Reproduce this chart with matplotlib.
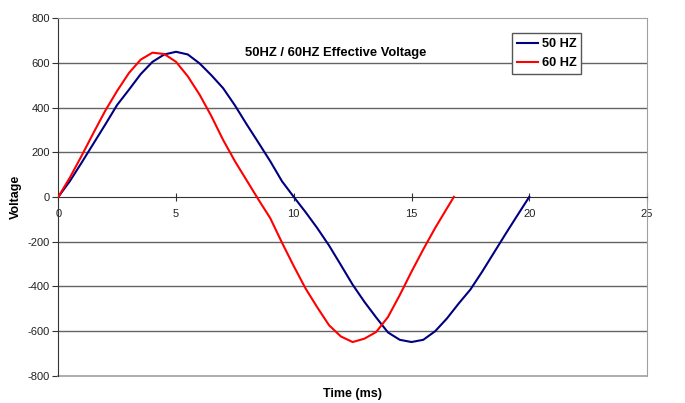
import matplotlib
matplotlib.use("Agg")
import matplotlib.pyplot as plt

plt.rcParams['font.family'] = ['Liberation Sans', 'DejaVu Sans']
plt.rcParams['axes.unicode_minus'] = False

# values, 0.5 ms steps
t50 = [0, 0.5, 1, 1.5, 2, 2.5, 3, 3.5, 4, 4.5, 5, 5.5, 6, 6.5, 7, 7.5, 8, 8.5, 9, 9.5, 10,
       10.5, 11, 11.5, 12, 12.5, 13, 13.5, 14, 14.5, 15, 15.5, 16, 16.5, 17, 17.5, 18, 18.5, 19, 19.5, 20]
v50 = [0, 72, 155, 240, 325, 412, 480, 550, 605, 638, 650, 638, 598, 545, 487, 410, 325, 243, 160, 70, 0,
       -68, -140, -218, -305, -393, -470, -540, -607, -640, -650, -640, -602, -545, -478, -415, -335, -250, -165, -82, 0]

t60 = [0, 0.5, 1, 1.5, 2, 2.5, 3, 3.5, 4, 4.5, 5, 5.5, 6, 6.5, 7, 7.5, 8, 8.5,
       9, 9.5, 10, 10.5, 11, 11.5, 12, 12.5, 13, 13.5, 14, 14.5, 15, 15.5, 16, 16.5, 16.8]
v60 = [0, 88, 186, 288, 387, 475, 555, 615, 646, 640, 605, 540, 458, 362, 255, 160, 74, -12,
       -95, -205, -310, -410, -495, -575, -625, -650, -635, -605, -538, -440, -335, -235, -140, -52, 0]

x_ticks = [0, 5, 10, 15, 20, 25]
y_ticks = [-800, -600, -400, -200, 0, 200, 400, 600, 800]

fig = plt.figure(figsize=(6.85, 4.03), dpi=100)
ax = fig.add_axes([0.0851, 0.0682, 0.8594, 0.8864])

ax.plot(t50, v50, color='#000080', lw=1.5, label='50 HZ', zorder=3,
        solid_joinstyle='round')
ax.plot(t60, v60, color='#ff0000', lw=1.5, label='60 HZ', zorder=3,
        solid_joinstyle='round')

ax.set_xlim(0, 25)
ax.set_ylim(-800, 800)
ax.set_xticks(x_ticks)
ax.set_yticks(y_ticks)

ax.grid(axis='y', color='#646464', lw=1)
for line, val in zip(ax.get_ygridlines(), y_ticks):
    if val in (-800, 0, 800):
        line.set_visible(False)
ax.set_axisbelow(True)

ax.spines['bottom'].set_position(('data', 0))
ax.spines['bottom'].set_color('#333333')
ax.spines['left'].set_color('#333333')
ax.spines['top'].set_color('#a0a0a0')
ax.spines['right'].set_color('#a0a0a0')
ax.axhline(-800, color='#a0a0a0', lw=1.2, clip_on=False)

ax.tick_params(axis='x', direction='inout', length=6, pad=6, labelsize=8,
               labelcolor='#222222', color='#333333')
ax.tick_params(axis='y', direction='out', length=4, pad=2, labelsize=8,
               labelcolor='#222222', color='#333333')

ax.set_ylabel('Voltage', fontsize=9, fontweight='bold')
ax.yaxis.set_label_coords(-0.062, 0.5)
ax.set_xlabel('Time (ms)', fontsize=9, fontweight='bold')
ax.xaxis.set_label_coords(0.5, -0.035)

ax.text(0.4717, 0.903, '50HZ / 60HZ Effective Voltage', transform=ax.transAxes,
        ha='center', va='center', fontsize=9.4, fontweight='bold')

leg = ax.legend(loc='upper left', bbox_to_anchor=(0.771, 0.959), fontsize=9.2,
                frameon=True, fancybox=False, framealpha=1, edgecolor='#555555',
                handlelength=1.6, handletextpad=0.3, labelspacing=0.55,
                borderpad=0.4, borderaxespad=0)
leg.get_frame().set_linewidth(1)
for txt in leg.get_texts():
    txt.set_fontweight('bold')

fig.savefig('out.png', dpi=100)
